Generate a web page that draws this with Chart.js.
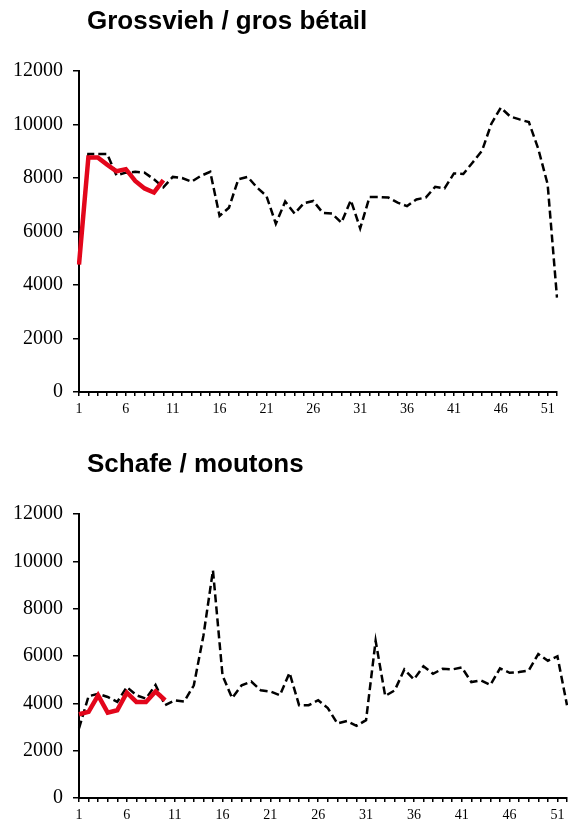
<!DOCTYPE html>
<html>
<head>
<meta charset="utf-8">
<script src="https://cdn.jsdelivr.net/npm/chart.js@4"></script>
<style>
  html, body { margin: 0; padding: 0; background: #fff; }
  body { width: 568px; height: 826px; position: relative; overflow: hidden; }
  .box { position: absolute; left: 0; width: 568px; }
  #top { top: 0; height: 420px; }
  #bottom { top: 420px; height: 406px; }
</style>
</head>
<body>
<div class="box" id="top"><canvas id="chart1"></canvas></div>
<div class="box" id="bottom"><canvas id="chart2"></canvas></div>
<script>
'use strict';

// weeks 1..52
var weeks = ['1','2','3','4','5','6','7','8','9','10','11','12','13','14','15','16','17','18','19','20',
  '21','22','23','24','25','26','27','28','29','30','31','32','33','34','35','36','37','38','39','40',
  '41','42','43','44','45','46','47','48','49','50','51','52'];

var yTicks = [0, 2000, 4000, 6000, 8000, 10000, 12000];

// Grossvieh / gros bétail
var grossviehPrev = [4800, 8900, 8900, 8900, 8100, 8200, 8230, 8200, 7950, 7650,
  8040, 8000, 7860, 8080, 8230, 6580, 6890, 7950, 8040, 7640,
  7330, 6290, 7120, 6670, 7060, 7140, 6700, 6670, 6330, 7170,
  6120, 7290, 7290, 7270, 7080, 6950, 7200, 7270, 7670, 7610,
  8170, 8150, 8580, 9020, 10030, 10630, 10300, 10190, 10090, 9090,
  7770, 3530];
var grossviehCur = [4760, 8770, 8770, 8500, 8250, 8330, 7890, 7610, 7460, 7920];

// Schafe / moutons
var schafePrev = [2940, 4300, 4400, 4270, 4060, 4690, 4340, 4200, 4780, 3920,
  4130, 4080, 4760, 6850, 9620, 5180, 4220, 4760, 4920, 4550,
  4500, 4340, 5290, 3920, 3920, 4130, 3800, 3150, 3250, 3050,
  3290, 6640, 4310, 4550, 5430, 5010, 5570, 5250, 5460, 5430,
  5520, 4900, 4970, 4780, 5480, 5290, 5320, 5390, 6080, 5800,
  5990, 3920];
var schafeCur = [3540, 3640, 4340, 3610, 3710, 4450, 4060, 4060, 4500, 4130];

// draws the title left aligned a bit right of the y axis
var titlePlugin = {
  id: 'leftTitle',
  afterDraw: function(chart, args, opts) {
    var c = chart.ctx;
    c.save();
    c.font = 'bold 26px "Liberation Sans", Arial, sans-serif';
    c.fillStyle = '#000';
    c.textBaseline = 'middle';
    c.textAlign = 'left';
    c.fillText(opts.text, chart.chartArea.left + 8, opts.y);
    c.restore();
  }
};

function makeChart(id, title, titleY, prev, cur, padTop, padRight) {
  var ctx = document.getElementById(id).getContext('2d');

  return new Chart(ctx, {
    type: 'line',
    data: {
      labels: weeks,
      datasets: [{
        data: cur,
        borderColor: '#e3061b',
        borderWidth: 4.5,
        pointRadius: 0,
        tension: 0,
        fill: false
      }, {
        data: prev,
        borderColor: '#000',
        borderWidth: 2.5,
        borderDash: [8, 4],
        pointRadius: 0,
        tension: 0,
        fill: false
      }]
    },
    options: {
      responsive: true,
      maintainAspectRatio: false,
      animation: false,
      layout: { padding: { top: padTop, right: padRight, left: 0, bottom: 0 } },
      plugins: {
        legend: { display: false },
        tooltip: { enabled: false },
        leftTitle: { text: title, y: titleY }
      },
      scales: {
        x: {
          offset: false,
          afterFit: function(scale) {
            scale.height = 28;
            scale.paddingLeft = 0;
            scale.paddingRight = 0;
          },
          border: { display: true, color: '#000', width: 2 },
          grid: { drawOnChartArea: false, drawTicks: true, tickLength: 4, color: '#000', lineWidth: 1.5 },
          ticks: {
            autoSkip: false,
            maxRotation: 0,
            padding: 5,
            color: '#000',
            font: { family: '"Liberation Serif", "Times New Roman", serif', size: 14 },
            callback: function(val, index) {
              return index % 5 === 0 ? weeks[index] : '';
            }
          }
        },
        y: {
          min: yTicks[0],
          max: yTicks[yTicks.length - 1],
          afterFit: function(scale) { scale.width = 79; },
          border: { display: true, color: '#000', width: 2 },
          grid: { drawOnChartArea: false, drawTicks: true, tickLength: 6, color: '#000', lineWidth: 1.5 },
          ticks: {
            stepSize: 2000,
            padding: 10,
            color: '#000',
            font: { family: '"Liberation Serif", "Times New Roman", serif', size: 20 },
            callback: function(val) { return String(val); }
          }
        }
      }
    },
    plugins: [titlePlugin]
  });
}

makeChart('chart1', 'Grossvieh / gros bétail', 22, grossviehPrev, grossviehCur, 71, 11);
makeChart('chart2', 'Schafe / moutons', 45, schafePrev, schafeCur, 94, 1);
</script>
</body>
</html>
